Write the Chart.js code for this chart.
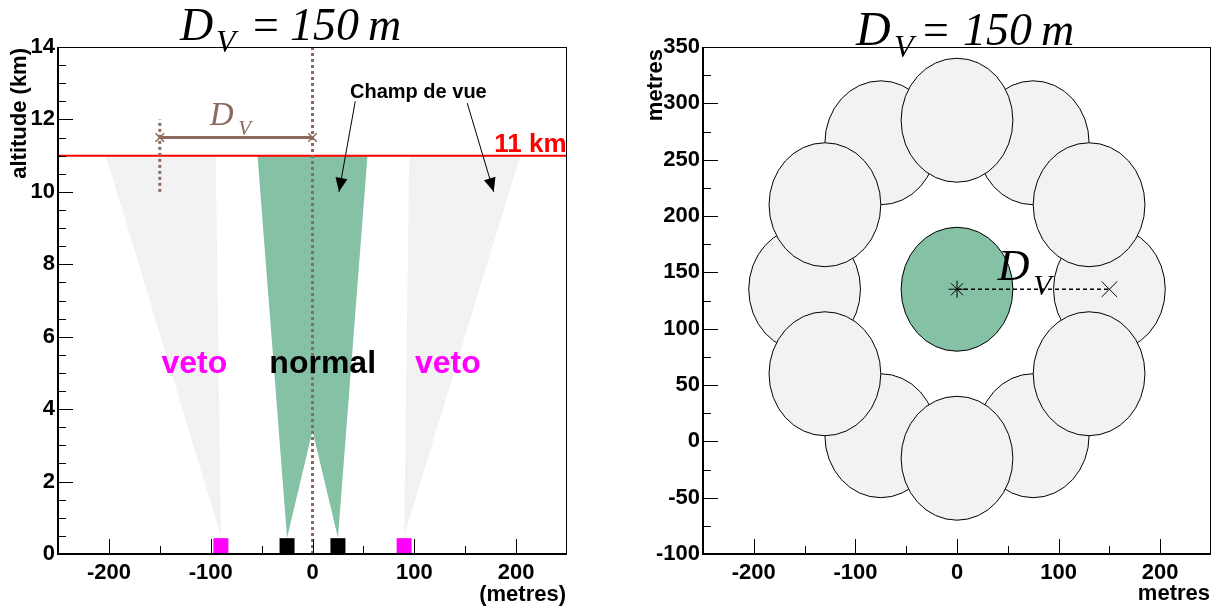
<!DOCTYPE html>
<html>
<head>
<meta charset="utf-8">
<script src="https://cdn.jsdelivr.net/npm/chart.js@4.4.1/dist/chart.umd.min.js"></script>
<style>
  html, body { margin: 0; padding: 0; background: #fff; }
  #wrap { position: relative; width: 1214px; height: 610px; }
  #side { position: absolute; left: 0; top: 0; }
  #ground { position: absolute; left: 607px; top: 0; }
</style>
</head>
<body>
<div id="wrap">
  <canvas id="side" width="607" height="610"></canvas>
  <canvas id="ground" width="607" height="610"></canvas>
</div>
<script>
// tick labels
const xTicks = [-200, -100, 0, 100, 200];
const altTicks = [0, 2, 4, 6, 8, 10, 12, 14];
const posTicks = [-100, -50, 0, 50, 100, 150, 200, 250, 300, 350];

// left panel (side view, x in metres, y in km)
const normalX = [-54, 54, 25, 0, -25];
const normalY = [11, 11, 0.45, 3.4, 0.45];
const vetoLX = [-203, -95, -90];
const vetoLY = [11, 11, 0.5];
const vetoRX = [95, 204, 90];
const vetoRY = [11, 11, 0.5];
const planeAlt = 11;
const normalDetX = [-25, 25];
const vetoDetX = [-90, 90];
const detAlt = 0.23;
const dvX = [-150, 0];
const dvAlt = 11.5;
const centreLineY = [0, 14];
const dvMarkY = [10, 12];

// right panel (ground view, metres)
// back row first, front row last (drawing order)
const ringX = [150, 75, -75, -150, -75, 75, 130, 0, -130, -130, 0, 130];
const ringY = [135, 265, 265, 135, 5, 5, 210, 285, 210, 60, -15, 60];
const fovR = 55;
const centreX = [0];
const centreY = [135];
const dvEndX = [150];

const brown = '#8b6b5d';
const green = '#85c1a4';
const grey = '#f2f2f2';
const sans = '"Liberation Sans", Arial, sans-serif';
const serif = '"Liberation Serif", "Times New Roman", serif';

const pts = (xs, ys) => xs.map((x, i) => ({ x: x, y: ys[i] }));

// inward ROOT-like ticks and frame
function frameTicks(xMinor, yMinor) {
  return {
    id: 'frameTicks',
    afterDraw(chart) {
      const { ctx, chartArea: a, scales: { x, y } } = chart;
      ctx.save();
      ctx.strokeStyle = '#000';
      ctx.lineWidth = 1;
      ctx.beginPath();
      for (let v = x.min + xMinor; v < x.max; v += xMinor) {
        const px = Math.round(x.getPixelForValue(v)) + 0.5;
        const len = x.ticks.some(t => t.value === v) ? 15 : 8;
        ctx.moveTo(px, a.bottom);
        ctx.lineTo(px, a.bottom - len);
      }
      for (let v = y.min + yMinor; v < y.max; v += yMinor) {
        const py = Math.round(y.getPixelForValue(v)) + 0.5;
        const len = y.ticks.some(t => t.value === v) ? 15 : 8;
        ctx.moveTo(a.left, py);
        ctx.lineTo(a.left + len, py);
      }
      ctx.stroke();
      ctx.strokeRect(a.left + 0.5, a.top + 0.5, a.width - 1, a.height - 1);
      ctx.lineWidth = 2;
      ctx.beginPath();
      ctx.moveTo(a.left, a.top);
      ctx.lineTo(a.left, a.bottom);
      ctx.lineTo(a.right, a.bottom);
      ctx.stroke();
      ctx.restore();
    }
  };
}

// text drawn at data coordinates
function notesPlugin(notes) {
  return {
    id: 'notes',
    afterDatasetsDraw(chart) {
      const { ctx, scales: { x, y } } = chart;
      ctx.save();
      ctx.textBaseline = 'alphabetic';
      notes.forEach(n => {
        ctx.font = n.font;
        ctx.fillStyle = n.color;
        ctx.textAlign = n.align || 'center';
        ctx.fillText(n.t, x.getPixelForValue(n.x), y.getPixelForValue(n.y));
      });
      ctx.restore();
    }
  };
}

// title and axis titles in pixel layout
function titlesPlugin(title, yTitle, xTitle) {
  return {
    id: 'titles',
    afterDraw(chart) {
      const { ctx } = chart;
      ctx.save();
      ctx.fillStyle = '#000';
      ctx.textBaseline = 'alphabetic';
      ctx.textAlign = 'left';
      title.forEach(p => {
        ctx.font = 'italic ' + p.size + 'px ' + serif;
        ctx.fillText(p.t, p.x, p.y);
      });
      ctx.font = 'bold 22px ' + sans;
      ctx.textAlign = 'right';
      ctx.fillText(xTitle.t, xTitle.x, xTitle.y);
      ctx.translate(yTitle.x, yTitle.y);
      ctx.rotate(-Math.PI / 2);
      ctx.fillText(yTitle.t, 0, 0);
      ctx.restore();
    }
  };
}

const arrowFromX = [42, 152];
const arrowFromY = [12.5, 12.45];
const arrowToX = [26, 178];
const arrowToY = [10, 10];

const arrowsPlugin = {
  id: 'arrows',
  afterDatasetsDraw(chart) {
    const { ctx, scales: { x, y } } = chart;
    ctx.save();
    ctx.strokeStyle = '#000';
    ctx.fillStyle = '#000';
    ctx.lineWidth = 1;
    arrowFromX.forEach((fx, i) => {
      const x0 = x.getPixelForValue(fx), y0 = y.getPixelForValue(arrowFromY[i]);
      const x1 = x.getPixelForValue(arrowToX[i]), y1 = y.getPixelForValue(arrowToY[i]);
      const ang = Math.atan2(y1 - y0, x1 - x0);
      ctx.beginPath();
      ctx.moveTo(x0, y0);
      ctx.lineTo(x1, y1);
      ctx.stroke();
      const hl = 14, hw = 6;
      const bx = x1 - hl * Math.cos(ang), by = y1 - hl * Math.sin(ang);
      ctx.beginPath();
      ctx.moveTo(x1, y1);
      ctx.lineTo(bx + hw * Math.sin(ang), by - hw * Math.cos(ang));
      ctx.lineTo(bx - hw * Math.sin(ang), by + hw * Math.cos(ang));
      ctx.closePath();
      ctx.fill();
    });
    ctx.restore();
  }
};

// circles of the ring + central field of view, radius in data units
const circlesPlugin = {
  id: 'circles',
  beforeDatasetsDraw(chart) {
    const { ctx, chartArea: a, scales: { x, y } } = chart;
    const ellipse = (cx, cy, fill) => {
      const px = x.getPixelForValue(cx), py = y.getPixelForValue(cy);
      const rx = Math.abs(x.getPixelForValue(cx + fovR) - px);
      const ry = Math.abs(y.getPixelForValue(cy + fovR) - py);
      ctx.beginPath();
      ctx.ellipse(px, py, rx, ry, 0, 0, Math.PI * 2);
      ctx.fillStyle = fill;
      ctx.fill();
      ctx.stroke();
    };
    ctx.save();
    ctx.beginPath();
    ctx.rect(a.left, a.top, a.width, a.height);
    ctx.clip();
    ctx.strokeStyle = '#000';
    ctx.lineWidth = 1;
    ringX.forEach((cx, i) => ellipse(cx, ringY[i], grey));
    ellipse(centreX[0], centreY[0], green);
    ctx.restore();
  }
};

function axes(xMin, xMax, xT, yMin, yMax, yT, yWidth) {
  const tickFont = { family: sans, size: 22, weight: 'bold' };
  return {
    x: {
      type: 'linear', min: xMin, max: xMax,
      grid: { display: false, drawTicks: false },
      border: { display: false },
      afterBuildTicks: s => { s.ticks = xT.map(v => ({ value: v })); },
      afterFit: s => { s.height = 56; s.paddingLeft = 0; s.paddingRight = 0; },
      ticks: { font: tickFont, color: '#000', padding: 6, maxRotation: 0, autoSkip: false }
    },
    y: {
      type: 'linear', min: yMin, max: yMax,
      grid: { display: false, drawTicks: false },
      border: { display: false },
      afterBuildTicks: s => { s.ticks = yT.map(v => ({ value: v })); },
      afterFit: s => { s.width = yWidth; s.paddingTop = 0; s.paddingBottom = 0; },
      ticks: { font: tickFont, color: '#000', padding: 3, autoSkip: false }
    }
  };
}

const common = {
  responsive: false,
  animation: false,
  events: [],
  plugins: { legend: { display: false }, tooltip: { enabled: false } }
};

const line = (data, color, width, dash, order) => ({
  data: data, showLine: true, borderColor: color, borderWidth: width,
  borderDash: dash, pointRadius: 0, fill: false, order: order
});
const shape = (data, color, order) => ({
  data: data, showLine: true, fill: 'shape', backgroundColor: color,
  borderWidth: 0, borderColor: 'rgba(0,0,0,0)', pointRadius: 0, order: order
});
const marks = (data, style, radius, color, order) => ({
  data: data, showLine: false, pointStyle: style, pointRadius: radius,
  pointBackgroundColor: color, pointBorderColor: color, pointBorderWidth: 0, order: order
});

new Chart(document.getElementById('side'), {
  type: 'scatter',
  data: {
    datasets: [
      shape(pts(vetoLX, vetoLY), grey, 20),
      shape(pts(vetoRX, vetoRY), grey, 20),
      shape(pts(normalX, normalY), green, 19),
      line([{ x: -250, y: planeAlt }, { x: 250, y: planeAlt }], '#ff0000', 2, [], 18),
      line(pts([0, 0], centreLineY), brown, 3, [3, 3], 17),
      line(pts([dvX[0], dvX[0]], dvMarkY), brown, 3, [3, 3], 17),
      Object.assign(line(pts(dvX, [dvAlt, dvAlt]), brown, 3, [], 16),
        { pointStyle: 'crossRot', pointRadius: 6, pointBorderColor: brown, pointBorderWidth: 1.5 }),
      marks(normalDetX.map(v => ({ x: v, y: detAlt })), 'rect', 10.6, '#000', 15),
      marks(vetoDetX.map(v => ({ x: v, y: detAlt })), 'rect', 10.6, '#ff00ff', 15)
    ]
  },
  options: Object.assign({}, common, {
    layout: { autoPadding: false, padding: { top: 47, right: 40, left: 0, bottom: 0 } },
    scales: axes(-250, 250, xTicks, 0, 14, altTicks, 58)
  }),
  plugins: [
    notesPlugin([
      { t: 'Champ de vue', x: 104, y: 12.59, font: 'bold 20px ' + sans, color: '#000' },
      { t: 'veto', x: -116, y: 5.0, font: 'bold 32px ' + sans, color: '#ff00ff' },
      { t: 'normal', x: 10, y: 5.0, font: 'bold 32px ' + sans, color: '#000' },
      { t: 'veto', x: 133, y: 5.0, font: 'bold 32px ' + sans, color: '#ff00ff' },
      { t: '11 km', x: 178.5, y: 11.1, font: 'bold 26px ' + sans, color: '#ff0000', align: 'left' },
      { t: 'D', x: -101, y: 11.85, font: 'italic 33px ' + serif, color: brown, align: 'left' },
      { t: 'V', x: -73, y: 11.57, font: 'italic 21px ' + serif, color: brown, align: 'left' }
    ]),
    arrowsPlugin,
    frameTicks(50, 0.5),
    titlesPlugin(
      [
        { t: 'D', x: 180, y: 40, size: 46 },
        { t: 'V', x: 216, y: 52, size: 32 },
        { t: '=', x: 250, y: 40, size: 46 },
        { t: '150', x: 290, y: 40, size: 46 },
        { t: 'm', x: 368, y: 40, size: 46 }
      ],
      { t: 'altitude (km)', x: 26, y: 48 },
      { t: '(metres)', x: 566, y: 601 }
    )
  ]
});

new Chart(document.getElementById('ground'), {
  type: 'scatter',
  data: {
    datasets: [
      line([{ x: centreX[0], y: centreY[0] }, { x: dvEndX[0], y: centreY[0] }], '#000', 1.5, [4, 3], 10),
      Object.assign(marks(pts(centreX, centreY), 'star', 8.5, '#000', 9), { pointBorderWidth: 1 }),
      Object.assign(marks(pts(dvEndX, centreY), 'crossRot', 11, '#000', 9), { pointBorderWidth: 1 })
    ]
  },
  options: Object.assign({}, common, {
    layout: { autoPadding: false, padding: { top: 47, right: 3, left: 0, bottom: 0 } },
    scales: axes(-250, 250, xTicks, -100, 350, posTicks, 96)
  }),
  plugins: [
    circlesPlugin,
    notesPlugin([
      { t: 'D', x: 40, y: 143, font: 'italic 44px ' + serif, color: '#000', align: 'left' },
      { t: 'V', x: 75, y: 130, font: 'italic 30px ' + serif, color: '#000', align: 'left' }
    ]),
    frameTicks(50, 25),
    titlesPlugin(
      [
        { t: 'D', x: 249, y: 45, size: 48 },
        { t: 'V', x: 287, y: 57, size: 32 },
        { t: '=', x: 313, y: 45, size: 46 },
        { t: '150', x: 356, y: 45, size: 46 },
        { t: 'm', x: 434, y: 45, size: 46 }
      ],
      { t: 'metres', x: 55, y: 49 },
      { t: 'metres', x: 603, y: 600 }
    )
  ]
});
</script>
</body>
</html>
